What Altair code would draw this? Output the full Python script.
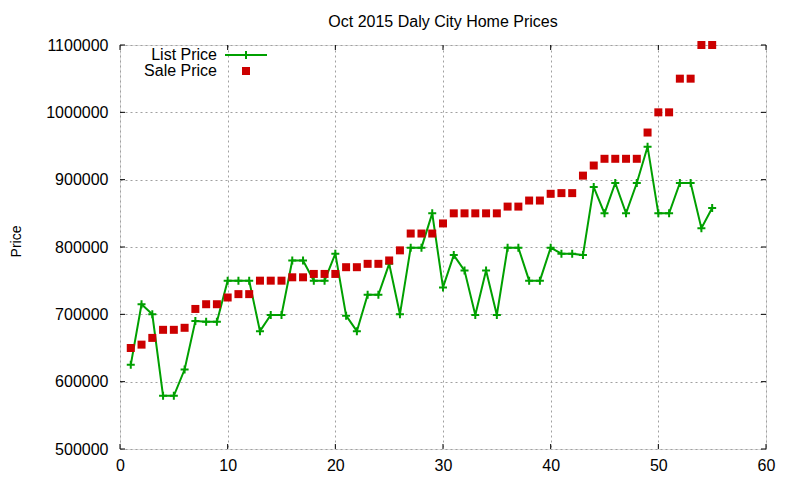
import altair as alt
import pandas as pd

# ---- data ----
idx = list(range(1, 56))
list_price = [625000, 715000, 700000, 579000, 579000, 618000, 690000, 689000, 689000, 750000,
              750000, 750000, 675000, 699000, 699000, 780000, 780000, 750000, 750000, 790000,
              698000, 675000, 729000, 729000, 775000, 700000, 799000, 799000, 850000, 740000,
              788000, 765000, 699000, 765000, 699000, 799000, 799000, 750000, 750000, 799000,
              790000, 790000, 788000, 889000, 850000, 895000, 850000, 895000, 949000, 850000,
              850000, 895000, 895000, 828000, 858000]
sale_price = [650000, 655000, 665000, 677000, 677000, 680000, 708000, 715000, 715000, 725000,
              730000, 730000, 750000, 750000, 750000, 755000, 755000, 760000, 760000, 760000,
              770000, 770000, 775000, 775000, 780000, 795000, 820000, 820000, 820000, 835000,
              850000, 850000, 850000, 850000, 850000, 860000, 860000, 869000, 869000, 879000,
              880000, 880000, 906000, 921000, 931000, 931000, 931000, 931000, 970000, 1000000,
              1000000, 1050000, 1050000, 1100000, 1100000]
x_ticks = [0, 10, 20, 30, 40, 50, 60]
y_ticks = [500000, 600000, 700000, 800000, 900000, 1000000, 1100000]
title_text = "Oct 2015 Daly City Home Prices"
legend_labels = ["List Price", "Sale Price"]

GREEN = "#00a000"
RED = "#cc0000"
FONT = "Liberation Sans"
W, H = 646, 404

df = pd.DataFrame({"n": idx, "list": list_price, "sale": sale_price})
xt = pd.DataFrame({"v": x_ticks})
yt = pd.DataFrame({"v": y_ticks})

xs = alt.Scale(domain=[0, 60], nice=False, zero=False)
ys = alt.Scale(domain=[500000, 1100000], nice=False, zero=False)

xaxis = alt.Axis(values=x_ticks, format="d", tickSize=0, labelPadding=8, domain=False,
                 labelFlush=False, labelOverlap=False,
                 grid=True, gridColor="#a0a0a0", gridDash=[2, 3], gridWidth=1,
                 labelFont=FONT, labelFontSize=16, labelColor="black", title=None)
yaxis = alt.Axis(values=y_ticks, format="d", tickSize=0, labelPadding=12, domain=False,
                 labelFlush=False, labelOverlap=False,
                 grid=True, gridColor="#a0a0a0", gridDash=[2, 3], gridWidth=1,
                 labelFont=FONT, labelFontSize=16, labelColor="black",
                 title="Price", titleFont=FONT, titleFontSize=14, titleFontWeight="normal",
                 titleColor="black", titleAngle=270, titleX=-100, titleY=196,
                 titleAlign="center", titleBaseline="alphabetic")


def X(f):
    return alt.X(f, type="quantitative", scale=xs, axis=xaxis)


def Y(f):
    return alt.Y(f, type="quantitative", scale=ys, axis=yaxis)


base = alt.Chart(df)

line = base.mark_line(color=GREEN, strokeWidth=2).encode(x=X("n"), y=Y("list"))
plus_shape = "M-1,0H1M0,-1V1"
pts = base.mark_point(shape=plus_shape, size=64, color=GREEN, strokeWidth=2,
                      filled=False, opacity=1).encode(x=X("n"), y=Y("list"))
sq = base.mark_square(size=64, color=RED, opacity=1).encode(x=X("n"), y=Y("sale"))

tk = 5
tick_l = alt.Chart(yt).mark_rule(color="black").encode(y=Y("v"), x=alt.value(0), x2=alt.value(tk))
tick_r = alt.Chart(yt).mark_rule(color="black").encode(y=Y("v"), x=alt.value(W - tk), x2=alt.value(W))
tick_b = alt.Chart(xt).mark_rule(color="black").encode(x=X("v"), y=alt.value(H - tk), y2=alt.value(H))
tick_t = alt.Chart(xt).mark_rule(color="black").encode(x=X("v"), y=alt.value(0), y2=alt.value(tk))

leg0 = pd.DataFrame({"label": [legend_labels[0]]})
leg1 = pd.DataFrame({"label": [legend_labels[1]]})
leg_text0 = alt.Chart(leg0).mark_text(align="right", baseline="middle", font=FONT, fontSize=16,
                                      color="black").encode(
    text="label:N", x=alt.value(97), y=alt.value(10))
leg_text1 = alt.Chart(leg1).mark_text(align="right", baseline="middle", font=FONT, fontSize=16,
                                      color="black").encode(
    text="label:N", x=alt.value(97), y=alt.value(26))
leg_line = alt.Chart(leg0).mark_rule(color=GREEN, strokeWidth=2).encode(
    x=alt.value(105), x2=alt.value(147), y=alt.value(10))
leg_plus = alt.Chart(leg0).mark_point(shape=plus_shape, size=64, color=GREEN,
                                      strokeWidth=2, filled=False, opacity=1).encode(
    x=alt.value(126), y=alt.value(10))
leg_sq = alt.Chart(leg1).mark_square(size=64, color=RED, opacity=1).encode(
    x=alt.value(126), y=alt.value(26))

chart = alt.layer(line, pts, sq, tick_l, tick_r, tick_b, tick_t,
                  leg_text0, leg_text1, leg_line, leg_plus, leg_sq).properties(
    width=W, height=H,
    title=alt.TitleParams(title_text, font=FONT, fontSize=16, fontWeight="normal",
                          color="black", anchor="middle", offset=7),
    autosize=alt.AutoSizeParams(type="none"),
    padding={"left": 112, "top": 37, "right": 26, "bottom": 28},
).configure_view(stroke="black", strokeWidth=1).configure(background="white")

chart.save("out.html", embed_options={"renderer": "svg", "actions": False})
